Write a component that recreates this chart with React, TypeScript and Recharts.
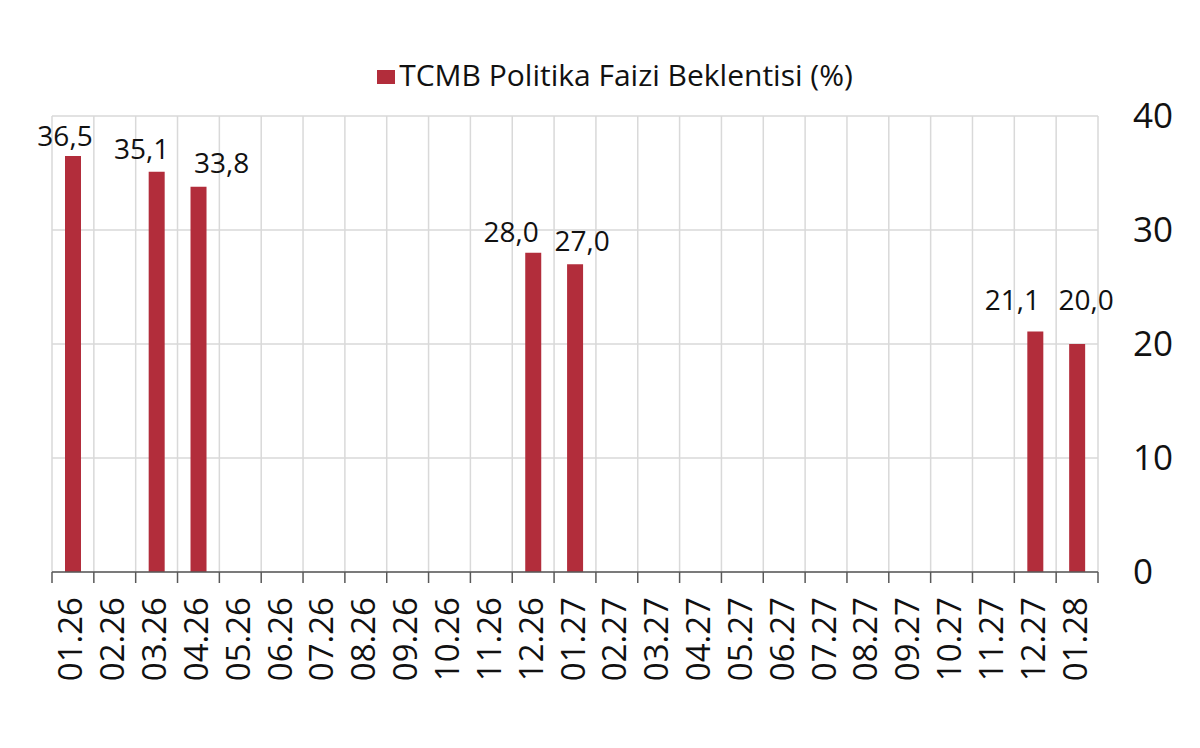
import React from 'react';
import {
  BarChart,
  Bar,
  XAxis,
  YAxis,
  CartesianGrid,
  Legend,
  LabelList
} from 'recharts';

const categories = [
  '01.26', '02.26', '03.26', '04.26', '05.26', '06.26', '07.26', '08.26', '09.26',
  '10.26', '11.26', '12.26', '01.27', '02.27', '03.27', '04.27', '05.27', '06.27',
  '07.27', '08.27', '09.27', '10.27', '11.27', '12.27', '01.28'
];

const rateExpectation: (number | null)[] = [
  36.5, null, 35.1, 33.8, null, null, null, null, null,
  null, null, 28.0, 27.0, null, null, null, null, null,
  null, null, null, null, null, 21.1, 20.0
];

const yTicks = [0, 10, 20, 30, 40];

const SERIES_NAME = 'TCMB Politika Faizi Beklentisi (%)';

// label nudges (dx, baseline above bar top), the source has hand-placed labels
const labelOffsets: Record<string, [number, number]> = {
  '01.26': [-8, 10],
  '03.26': [-15, 13],
  '04.26': [23, 14],
  '12.26': [-22, 11],
  '01.27': [7, 13],
  '12.27': [-23, 21],
  '01.28': [9, 34]
};

const data = categories.map((month, i) => ({ month, value: rateExpectation[i] }));

const WIDTH = 1200;
const HEIGHT = 748;
const MARGIN = { top: 50, right: 22, left: 52, bottom: 56 };
const Y_AXIS_W = 80;
const PLOT_W = WIDTH - MARGIN.left - MARGIN.right - Y_AXIS_W;
const BAND = PLOT_W / categories.length;
const FONT = '"Open Sans", "Noto Sans", sans-serif';
const RED = '#B22D3B';
const INK = '#111';

const fmt = (v: number) => v.toFixed(1).replace('.', ',');

const MonthTick = ({ x, y, payload, index }: any) => {
  const left = x - BAND / 2;
  return (
    <g>
      <line x1={left} y1={y} x2={left} y2={y + 11} stroke="#595959" strokeWidth={1.5} />
      {index === categories.length - 1 && (
        <line x1={x + BAND / 2} y1={y} x2={x + BAND / 2} y2={y + 11} stroke="#595959" strokeWidth={1.5} />
      )}
      <text
        x={x - 3}
        y={y + 25}
        transform={`rotate(-90, ${x - 3}, ${y + 25})`}
        textAnchor="end"
        dominantBaseline="central"
        fontSize={33}
        fontFamily={FONT}
        fill={INK}
      >
        {payload.value}
      </text>
    </g>
  );
};

const ValueLabel = (props: any) => {
  const { x, y, width, value } = props;
  if (value == null) return null;
  const cx = x + width / 2;
  const idx = Math.round((cx - MARGIN.left - BAND / 2) / BAND);
  const [dx, up] = labelOffsets[categories[idx]] || [0, 12];
  return (
    <text
      x={cx + dx}
      y={y - up}
      textAnchor="middle"
      fontSize={28}
      fontFamily={FONT}
      fill={INK}
    >
      {fmt(value)}
    </text>
  );
};

const LegendContent = () => (
  <div
    style={{
      height: 66,
      display: 'flex',
      justifyContent: 'center',
      alignItems: 'flex-start',
      paddingTop: 4,
      boxSizing: 'border-box',
      fontFamily: FONT,
      fontSize: 30,
      color: INK
    }}
  >
    <span style={{ display: 'inline-block', width: 18, height: 14, background: RED, marginTop: 16, marginRight: 4 }} />
    <span>{SERIES_NAME}</span>
  </div>
);

const App: React.FC = () => {
  return (
    <div style={{ position: 'absolute', left: 0, top: 0, width: WIDTH, height: HEIGHT, background: '#fff' }}>
      <BarChart width={WIDTH} height={HEIGHT} data={data} margin={MARGIN} barSize={16}>
        <CartesianGrid
          stroke="#d9d9d9"
          strokeWidth={1.5}
          verticalCoordinatesGenerator={({ offset }: any) =>
            Array.from({ length: categories.length + 1 }, (_, i) => offset.left + i * (offset.width / categories.length))
          }
        />
        <Legend verticalAlign="top" align="center" content={<LegendContent />} />
        <XAxis
          dataKey="month"
          interval={0}
          height={120}
          tickLine={false}
          tickSize={0}
          tickMargin={0}
          axisLine={{ stroke: '#595959', strokeWidth: 1.5 }}
          tick={<MonthTick />}
        />
        <YAxis
          orientation="right"
          domain={[0, 40]}
          ticks={yTicks}
          width={Y_AXIS_W}
          axisLine={false}
          tickLine={false}
          tickSize={0}
          tickMargin={35}
          tick={{ fontSize: 35, fontFamily: FONT, fill: INK, textAnchor: 'start' }}
        />
        <Bar dataKey="value" name={SERIES_NAME} fill={RED} isAnimationActive={false}>
          <LabelList dataKey="value" content={<ValueLabel />} />
        </Bar>
      </BarChart>
    </div>
  );
};

export default App;
